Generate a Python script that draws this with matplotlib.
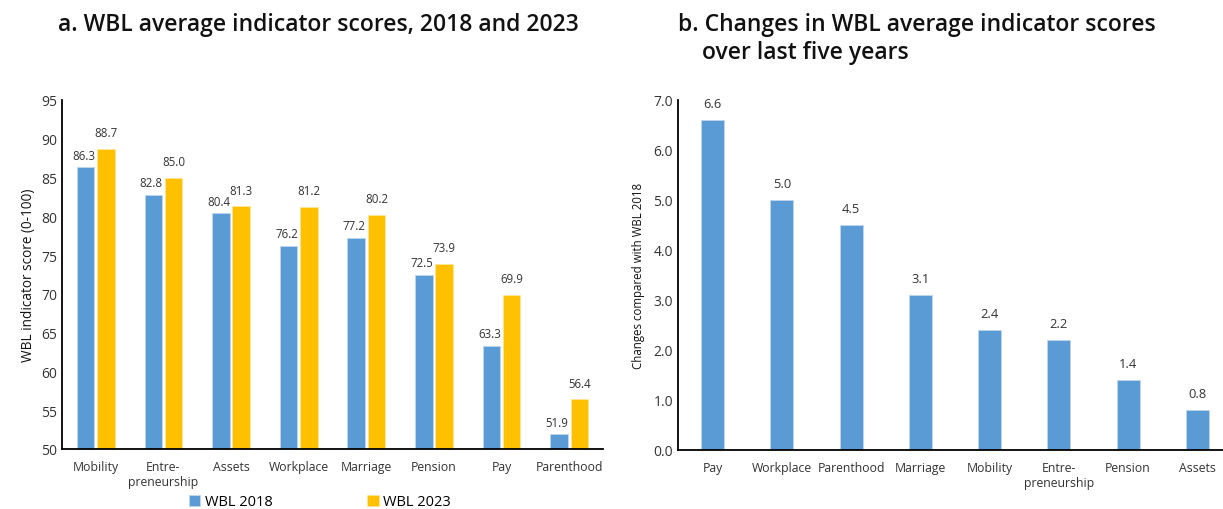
import matplotlib
matplotlib.use("Agg")
import matplotlib.pyplot as plt
import numpy as np

plt.rcParams['font.family'] = ['Open Sans', 'DejaVu Sans']

cats_a = ["Mobility", "Entre-\npreneurship", "Assets", "Workplace", "Marriage", "Pension", "Pay", "Parenthood"]
wbl2018 = [86.3, 82.8, 80.4, 76.2, 77.2, 72.5, 63.3, 51.9]
wbl2023 = [88.7, 85.0, 81.3, 81.2, 80.2, 73.9, 69.9, 56.4]

cats_b = ["Pay", "Workplace", "Parenthood", "Marriage", "Mobility", "Entre-\npreneurship", "Pension", "Assets"]
changes = [6.6, 5.0, 4.5, 3.1, 2.4, 2.2, 1.4, 0.8]

BLUE = "#5B9BD5"
GOLD = "#FFC000"
W, H = 1223, 510
fig = plt.figure(figsize=(W/100, H/100), dpi=100)

axA = fig.add_axes([62/W, 1-450/H, (603-62)/W, (450-101)/H])
axB = fig.add_axes([678/W, 1-451/H, (1232-678)/W, (451-101)/H])

x = np.arange(len(cats_a))
bw = 0.26
b1 = axA.bar(x - bw/2 - 0.02, wbl2018, bw, color=BLUE, edgecolor="#BDD7EE", linewidth=0.6, label="WBL 2018")
b2 = axA.bar(x + bw/2 + 0.02, wbl2023, bw, color=GOLD, edgecolor="#FFE699", linewidth=0.6, label="WBL 2023")
axA.set_ylim(50, 95)
axA.set_xlim(-0.5, len(cats_a) - 0.5)
axA.set_yticks(np.arange(50, 96, 5))
axA.set_xticks(x)
axA.set_xticklabels(cats_a)
for v, r in zip(wbl2018, b1):
    axA.annotate(f"{v:.1f}", (r.get_x() + r.get_width()/2 - 0.03, v), xytext=(0, 4), textcoords="offset points",
                 ha="center", va="bottom", fontsize=8.3, color="#333333")
for v, r in zip(wbl2023, b2):
    axA.annotate(f"{v:.1f}", (r.get_x() + r.get_width()/2, v), xytext=(0, 7), textcoords="offset points",
                 ha="center", va="bottom", fontsize=8.3, color="#333333")
axA.set_ylabel("WBL indicator score (0-100)", fontsize=9.8, color="#111111", labelpad=4)

xb = np.arange(len(cats_b))
rb = axB.bar(xb, changes, 0.33, color=BLUE, edgecolor="#BDD7EE", linewidth=0.6)
axB.set_ylim(0, 7)
axB.set_xlim(-0.5, len(cats_b) - 0.5)
axB.set_yticks(np.arange(0, 7.01, 1.0))
axB.set_yticklabels([f"{t:.1f}" for t in np.arange(0, 7.01, 1.0)])
axB.set_xticks(xb)
axB.set_xticklabels(cats_b)
for v, r in zip(changes, rb):
    axB.annotate(f"{v:.1f}", (r.get_x() + r.get_width()/2, v), xytext=(0, 7), textcoords="offset points",
                 ha="center", va="bottom", fontsize=9.3, color="#333333")
axB.set_ylabel("Changes compared with WBL 2018", fontsize=8.3, color="#111111", labelpad=6)

for ax in (axA, axB):
    for s in ("top", "right"):
        ax.spines[s].set_visible(False)
    ax.spines["left"].set_linewidth(1.3)
    ax.spines["bottom"].set_linewidth(1.3)
    ax.tick_params(axis="both", length=0, labelsize=10, colors="#333333")
    ax.tick_params(axis="x", pad=8, labelsize=8.8)

fig.text(58/W, 1-25/H, "a. WBL average indicator scores, 2018 and 2023", fontsize=16.5, fontweight="semibold",
         ha="left", va="center", color="#111111")
fig.text(678/W, 1-39/H, "b. Changes in WBL average indicator scores\n    over last five years", fontsize=16.5,
         fontweight="semibold", ha="left", va="center", color="#111111", linespacing=1.2)

fig.legend(handles=[b1, b2], labels=["WBL 2018", "WBL 2023"], loc="center", bbox_to_anchor=(320/W, 1-503/H),
           ncol=2, frameon=False, fontsize=10.5, handlelength=0.8, handleheight=0.8, columnspacing=6.5,
           handletextpad=0.3)

fig.savefig("out.png", dpi=100, facecolor="white")
